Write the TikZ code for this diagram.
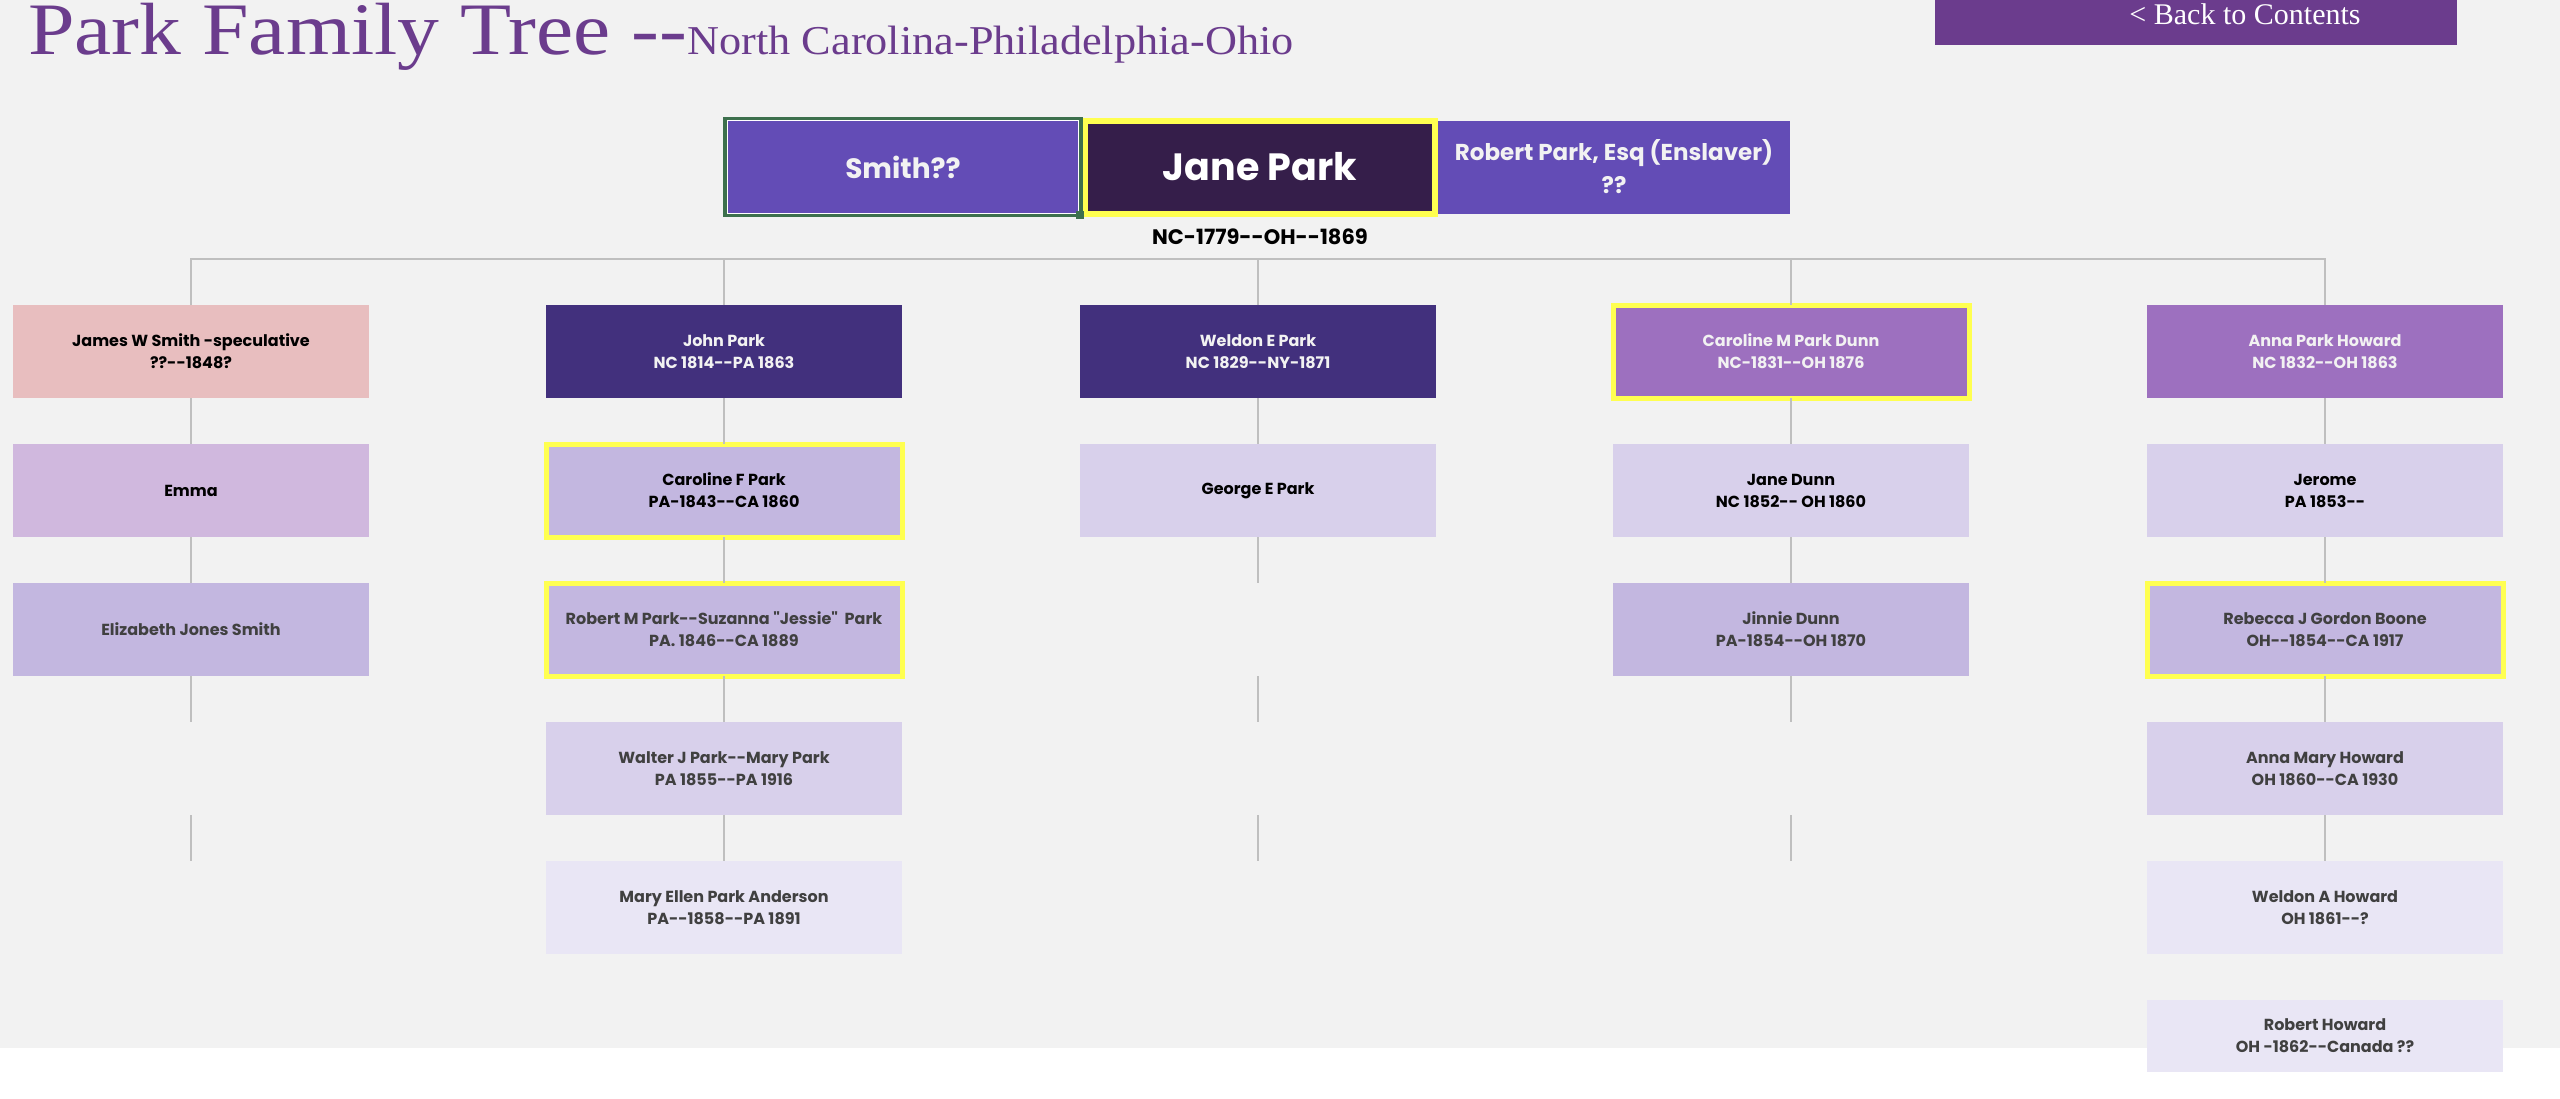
\documentclass[tikz,border=0pt]{standalone}
\usepackage{fontspec}
\newfontfamily\titlefont{Liberation Serif}
\newfontfamily\boxfont{Poppins}
\usetikzlibrary{calc,positioning}
\definecolor{my_bg}{RGB}{242,242,242}
\definecolor{my_plum}{RGB}{107,60,141}
\definecolor{my_violet}{RGB}{99,76,182}
\definecolor{my_night}{RGB}{53,30,74}
\definecolor{my_yellow}{RGB}{255,255,80}
\definecolor{my_green}{RGB}{61,112,77}
\definecolor{my_indigo}{RGB}{66,48,125}
\definecolor{my_orchid}{RGB}{157,112,191}
\definecolor{my_rose}{RGB}{232,190,191}
\definecolor{my_thistle}{RGB}{208,184,222}
\definecolor{my_lav}{RGB}{195,183,224}
\definecolor{my_lav_light}{RGB}{216,208,235}
\definecolor{my_lav_pale}{RGB}{233,230,245}
\definecolor{my_line}{RGB}{191,191,191}
\definecolor{my_ink}{RGB}{64,64,64}
\definecolor{my_snow}{RGB}{242,242,242}
\tikzset{
  fam_box/.style = {rectangle, align=center, inner sep=0pt, outer sep=0pt,
    minimum width=356pt, minimum height=93pt,
    font=\boxfont\bfseries\fontsize{16}{22}\selectfont},
  gen_a/.style = {fam_box, fill=my_indigo, text=my_snow},
  gen_b/.style = {fam_box, fill=my_orchid, text=my_snow},
  gen_r/.style = {fam_box, fill=my_rose, text=black},
  kid_1/.style = {fam_box, fill=my_lav_light, text=black},
  kid_2/.style = {fam_box, fill=my_lav, text=my_ink},
  kid_3/.style = {fam_box, fill=my_lav_light, text=my_ink},
  kid_4/.style = {fam_box, fill=my_lav_pale, text=my_ink}
}

\begin{document}
\begin{tikzpicture}[x=1pt, y=-1pt, node distance=46pt,
        top_box/.style={rectangle, align=center, inner sep=0pt, outer sep=0pt,
          minimum width=352pt, minimum height=93pt, fill=my_violet, text=my_snow,
          font=\boxfont\bfseries\fontsize{23}{33}\selectfont},
        marked/.style={draw=my_yellow, line width=5pt},
        conn/.style={draw=my_line, line width=2pt},
        dates/.style={inner sep=0pt, text=black, font=\boxfont\bfseries\fontsize{21}{21}\selectfont},
        heading/.style={inner sep=0pt, anchor=base west, text=my_plum}]
    \fill[my_bg] (0,0) rectangle (2560,1048);
    \useasboundingbox (0,0) rectangle (2560,1098);

    \node [heading, font=\titlefont\fontsize{74}{74}\selectfont] (title) at (28,54) {\scalebox{1.13}[1]{Park Family Tree --}};
    \node [heading, font=\titlefont\fontsize{41}{41}\selectfont] (subtitle) at (title.base east) {\scalebox{1.08}[1]{North Carolina-Philadelphia-Ohio}};
    \fill[my_plum] (1935,0) rectangle (2457,45);
    \node [inner sep=0pt, anchor=base, text=white, font=\titlefont\fontsize{30}{30}\selectfont] (back) at (2245,24) {< Back to Contents};

    \node [top_box, fill=my_night, text=white, marked, line width=6pt, minimum width=350pt,
        font=\boxfont\bfseries\fontsize{38}{38}\selectfont] (jane) at (1260,167) {Jane Park};
    \node [top_box, draw=white, line width=1.5pt, left=6pt of jane,
        font=\boxfont\bfseries\fontsize{28}{28}\selectfont] (smith) {Smith??};
    \node [top_box, right=3pt of jane] (robert_p) {Robert Park, Esq (Enslaver)\\??};
    \draw[my_green, line width=3.5pt] ($(smith.north west)+(-2,-2)$) rectangle ($(smith.south east)+(2,2)$);
    \fill[my_green] ($(smith.south east)+(-3,-3)$) rectangle ($(smith.south east)+(5,5)$);
    \node [dates, below=15.5pt of jane] (jane_dates) {NC-1779--OH--1869};

    \node [gen_r] (james) at (191,351.5) {James W Smith -speculative\\??--1848?};
    \node [gen_a] (john) at (724,351.5) {John Park\\NC 1814--PA 1863};
    \node [gen_a] (weldon) at (1258,351.5) {Weldon E Park\\NC 1829--NY-1871};
    \node [gen_b, marked] (caroline_m) at (1791,351.5) {Caroline M Park Dunn\\NC-1831--OH 1876};
    \node [gen_b] (anna) at (2325,351.5) {Anna Park Howard\\NC 1832--OH 1863};

    \node [kid_1, fill=my_thistle, below=of james] (emma) {Emma};
    \node [kid_2, below=of emma] (elizabeth) {Elizabeth Jones Smith};

    \node [kid_2, text=black, marked, below=of john] (caroline_f) {Caroline F Park\\PA-1843--CA 1860};
    \node [kid_2, marked, below=of caroline_f] (robert_m) {Robert M Park--Suzanna "Jessie"\ \ Park\\PA. 1846--CA 1889};
    \node [kid_3, below=of robert_m] (walter) {Walter J Park--Mary Park\\PA 1855--PA 1916};
    \node [kid_4, below=of walter] (mary_ellen) {Mary Ellen Park Anderson\\PA--1858--PA 1891};

    \node [kid_1, below=of weldon] (george) {George E Park};

    \node [kid_1, below=of caroline_m] (jane_dunn) {Jane Dunn\\NC 1852-- OH 1860};
    \node [kid_2, below=of jane_dunn] (jinnie) {Jinnie Dunn\\PA-1854--OH 1870};

    \node [kid_1, below=of anna] (jerome) {Jerome\\PA 1853--};
    \node [kid_2, marked, below=of jerome] (rebecca) {Rebecca J Gordon Boone\\OH--1854--CA 1917};
    \node [kid_3, below=of rebecca] (anna_mary) {Anna Mary Howard\\OH 1860--CA 1930};
    \node [kid_4, below=of anna_mary] (weldon_a) {Weldon A Howard\\OH 1861--?};
    \node [kid_4, minimum height=72pt, below=of weldon_a] (robert_h) {Robert Howard\\OH -1862--Canada ??};

    \coordinate (bus) at (0,259);
    \coordinate [below=46pt of elizabeth.south] (js_gap1);
    \coordinate [below=93pt of js_gap1] (js_gap2);
    \coordinate [below=46pt of js_gap2] (js_gap3);
    \coordinate [below=46pt of george.south] (we_gap1);
    \coordinate [below=93pt of we_gap1] (we_gap2);
    \coordinate [below=46pt of we_gap2] (we_gap3);
    \coordinate [below=93pt of we_gap3] (we_gap4);
    \coordinate [below=46pt of we_gap4] (we_gap5);
    \coordinate [below=46pt of jinnie.south] (cd_gap1);
    \coordinate [below=93pt of cd_gap1] (cd_gap2);
    \coordinate [below=46pt of cd_gap2] (cd_gap3);

    \draw[conn] (james.north) -- (james.north |- bus) -- (anna.north |- bus) -- (anna.north);
    \draw[conn] (john.north) -- (john.north |- bus) (weldon.north) -- (weldon.north |- bus)
        (caroline_m.north) -- (caroline_m.north |- bus);
    \draw[conn] (james) -- (emma) (emma) -- (elizabeth) (elizabeth) -- (js_gap1) (js_gap2) -- (js_gap3);
    \draw[conn] (john) -- (caroline_f) (caroline_f) -- (robert_m) (robert_m) -- (walter) (walter) -- (mary_ellen);
    \draw[conn] (weldon) -- (george) (george) -- (we_gap1) (we_gap2) -- (we_gap3) (we_gap4) -- (we_gap5);
    \draw[conn] (caroline_m) -- (jane_dunn) (jane_dunn) -- (jinnie) (jinnie) -- (cd_gap1) (cd_gap2) -- (cd_gap3);
    \draw[conn] (anna) -- (jerome) (jerome) -- (rebecca) (rebecca) -- (anna_mary) (anna_mary) -- (weldon_a);
\end{tikzpicture}
\end{document}
